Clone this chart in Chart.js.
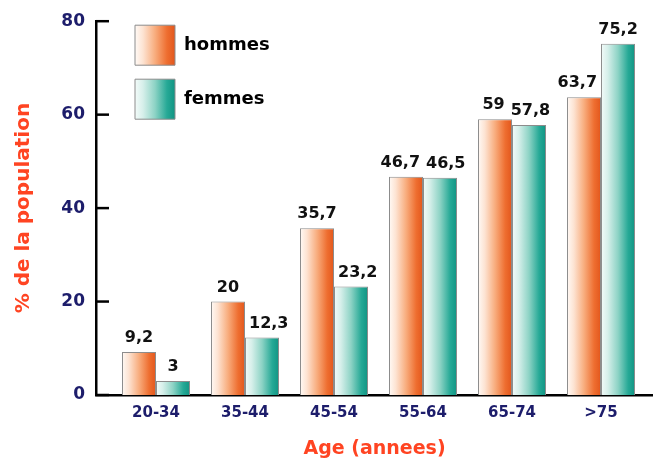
<!DOCTYPE html>
<html lang="fr">
<head>
<meta charset="utf-8">
<title>Population par âge</title>
<script src="https://cdn.jsdelivr.net/npm/chart.js@4.4.1/dist/chart.umd.min.js"></script>
<style>
  html, body { margin: 0; padding: 0; background: #fff; }
  #wrap { width: 653px; height: 464px; }
</style>
</head>
<body>
<div id="wrap"><canvas id="c" width="653" height="464"></canvas></div>
<script>
// Age groups and share of the population (%) for each sex
const categories = ['20-34', '35-44', '45-54', '55-64', '65-74', '>75'];
const hommes = [9.2, 20, 35.7, 46.7, 59, 63.7];
const femmes = [3, 12.3, 23.2, 46.5, 57.8, 75.2];
const yTicks = [0, 20, 40, 60, 80];
const seriesNames = ['hommes', 'femmes'];

const FONT = '"DejaVu Sans", Verdana, sans-serif';
const NAVY = '#1d1d6b';
const TITLE_RED = '#ff4422';
const CAT_PCT = 0.764;

// horizontal shading: pale on the left, full colour on the right
const STOPS = [
  [[0, '#fffaf6'], [0.2, '#fde3d2'], [0.5, '#f8ad7e'], [0.8, '#ee6e30'], [1, '#e2561c']],
  [[0, '#f3fbf9'], [0.2, '#d6efea'], [0.5, '#8dd3c5'], [0.8, '#26a996'], [1, '#109483']]
];

function shade(ctx, x0, x1, stops) {
  const g = ctx.createLinearGradient(x0, 0, x1, 0);
  stops.forEach(([o, c]) => g.addColorStop(o, c));
  return g;
}

function barFill(c, series) {
  const chart = c.chart;
  const xs = chart.scales.x;
  if (!xs || c.type !== 'data' || !chart.chartArea) return STOPS[series][3][1];
  const center = xs.getPixelForValue(c.dataIndex);
  const unit = xs.getPixelForValue(1) - xs.getPixelForValue(0);
  const w = unit * CAT_PCT / 2;
  const left = series === 0 ? center - w : center;
  return shade(chart.ctx, left, left + w, STOPS[series]);
}

const fmt = v => String(v).replace('.', ',');

// short tick marks pointing into the plot from the value axis
const innerTicks = {
  id: 'innerTicks',
  afterDraw(chart) {
    const ys = chart.scales.y, ctx = chart.ctx, x0 = chart.chartArea.left;
    ctx.save();
    ctx.strokeStyle = '#000';
    ctx.lineWidth = 2.5;
    ys.ticks.forEach(t => {
      const y = ys.getPixelForValue(t.value);
      ctx.beginPath();
      ctx.moveTo(x0, y);
      ctx.lineTo(x0 + 13, y);
      ctx.stroke();
    });
    ctx.restore();
  }
};

// legend sits inside the plot, top left
const legendPlacement = {
  id: 'legendPlacement',
  afterLayout(chart) {
    const lg = chart.legend, a = chart.chartArea;
    lg.left = a.left + 25;
    lg.top = a.top - 10;
    lg.right = chart.width;
    lg.bottom = chart.height;
  }
};

// value printed above each bar, nudged apart when neighbours collide
const valueLabels = {
  id: 'valueLabels',
  afterDatasetsDraw(chart) {
    const ctx = chart.ctx;
    const m0 = chart.getDatasetMeta(0), m1 = chart.getDatasetMeta(1);
    ctx.save();
    ctx.font = 'bold 16px ' + FONT;
    ctx.fillStyle = '#111';
    ctx.textAlign = 'center';
    ctx.textBaseline = 'alphabetic';
    const GAP = 10, H = 13, PAD = 4;
    categories.forEach((_, i) => {
      const a = m0.data[i], b = m1.data[i];
      const ta = fmt(hommes[i]), tb = fmt(femmes[i]);
      const wa = ctx.measureText(ta).width, wb = ctx.measureText(tb).width;
      let xa = a.x, xb = b.x;
      const ya = a.y - GAP, yb = b.y - GAP;
      if (Math.abs(ya - yb) < H + 2) {
        const need = (wa + wb) / 2 + 6 - (xb - xa);
        if (need > 0) { xa -= need / 2; xb += need / 2; }
      }
      const boundary = b.x - b.width / 2;
      if (b.y < ya) xa = Math.min(xa, boundary - PAD - wa / 2);
      if (a.y < yb) xb = Math.max(xb, boundary + PAD + wb / 2);
      ctx.fillText(ta, xa, ya);
      ctx.fillText(tb, xb, yb);
    });
    ctx.restore();
  }
};

const chart = new Chart(document.getElementById('c'), {
  type: 'bar',
  data: {
    datasets: [
      {
        label: seriesNames[0],
        data: categories.map((_, i) => ({ x: i, y: hommes[i] })),
        backgroundColor: c => barFill(c, 0),
        borderColor: '#8c8c8c',
        borderWidth: 1,
        categoryPercentage: CAT_PCT,
        barPercentage: 1
      },
      {
        label: seriesNames[1],
        data: categories.map((_, i) => ({ x: i, y: femmes[i] })),
        backgroundColor: c => barFill(c, 1),
        borderColor: '#8c8c8c',
        borderWidth: 1,
        categoryPercentage: CAT_PCT,
        barPercentage: 1
      }
    ]
  },
  options: {
    responsive: false,
    animation: false,
    events: [],
    devicePixelRatio: 1,
    layout: { padding: { top: 20, right: 0, bottom: 0, left: 0 } },
    scales: {
      x: {
        type: 'linear',
        min: -0.674,
        max: 5.584,
        offset: false,
        z: 1,
        afterBuildTicks: s => { s.ticks = categories.map((_, i) => ({ value: i })); },
        afterFit: s => { s.height = 69; },
        grid: { display: false, drawTicks: false, offset: false },
        border: { display: true, color: '#000', width: 2.5 },
        ticks: {
          color: NAVY,
          font: { family: FONT, weight: 'bold', size: 15 },
          padding: 9,
          autoSkip: false,
          maxRotation: 0,
          callback: v => categories[v]
        },
        title: {
          display: true,
          text: 'Age (annees)',
          color: TITLE_RED,
          font: { family: FONT, weight: 'bold', size: 19 },
          padding: { top: 0, bottom: 4 }
        }
      },
      y: {
        min: 0,
        max: 80,
        afterBuildTicks: s => { s.ticks = yTicks.map(v => ({ value: v })); },
        afterFit: s => { s.width = 96; },
        grid: { display: false, drawTicks: false },
        border: { display: true, color: '#000', width: 2.5 },
        ticks: {
          color: NAVY,
          font: { family: FONT, weight: 'bold', size: 17 },
          padding: 11
        },
        title: {
          display: true,
          text: '% de la population',
          color: TITLE_RED,
          font: { family: FONT, weight: 'bold', size: 20 },
          padding: { top: 12, bottom: 0 }
        }
      }
    },
    plugins: {
      tooltip: { enabled: false },
      legend: {
        display: true,
        position: 'chartArea',
        align: 'start',
        labels: {
          boxWidth: 40,
          boxHeight: 40,
          padding: 14,
          color: '#111',
          font: { family: FONT, weight: 'bold', size: 18 },
          generateLabels(ch) {
            const a = ch.chartArea || { left: 0 };
            const x0 = a.left + 39;
            return ch.data.datasets.map((ds, i) => ({
              text: ds.label,
              fillStyle: shade(ch.ctx, x0, x0 + 40, STOPS[i]),
              strokeStyle: '#8c8c8c',
              lineWidth: 1,
              hidden: false,
              datasetIndex: i
            }));
          }
        }
      }
    }
  },
  plugins: [innerTicks, legendPlacement, valueLabels]
});
</script>
</body>
</html>
